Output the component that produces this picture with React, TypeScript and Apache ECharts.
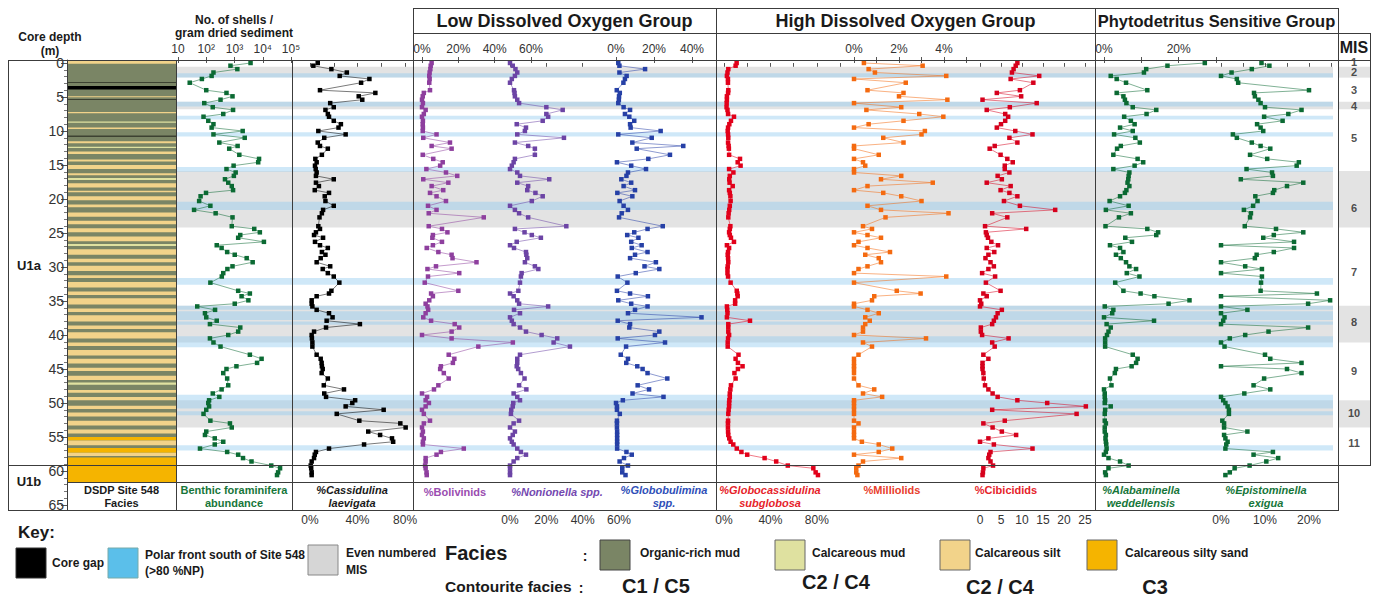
import React, { useEffect, useRef } from "react";
import * as echarts from "echarts";

// ---------------- DATA ----------------
const DEPTHS = [
  0.0, 0.4, 0.9, 1.4, 1.9, 2.35, 2.9, 4.0, 4.4, 4.9,
  5.4, 5.9, 6.5, 6.9, 7.5, 7.9, 8.5, 9.0, 9.5, 10.0,
  10.5, 11.0, 11.7, 12.2, 12.6, 13.5, 14.1, 14.6, 15.1, 15.6,
  16.1, 16.6, 17.1, 17.6, 18.1, 18.7, 19.1, 19.6, 20.3, 21.0,
  21.6, 22.1, 22.7, 24.0, 24.4, 24.9, 25.3, 25.7, 26.3, 26.8,
  27.2, 27.8, 28.2, 28.7, 29.3, 29.9, 30.3, 30.9, 31.4, 32.3,
  33.5, 33.9, 34.3, 34.9, 35.4, 35.8, 36.3, 36.8, 37.4, 37.9,
  38.4, 38.9, 39.5, 40.0, 40.5, 41.1, 41.7, 42.9, 43.5, 44.1,
  44.6, 45.0, 45.6, 46.4, 47.4, 48.0, 48.6, 49.1, 49.6, 50.0,
  50.5, 51.0, 51.6, 52.6, 53.0, 53.6, 54.2, 54.7, 55.2, 55.7,
  56.1, 56.7, 57.2, 57.6, 58.1, 58.6, 59.2, 59.6, 60.2, 60.6,
];

const ABUNDANCE = [
  3700, 720, 1260, 180, 155, 70, 26, 100, 520, 850,
  320, 85, 170, 890, 400, 80, 118, 180, 155, 1950,
  180, 2300, 290, 1290, 650, 1480, 7400, 6900, 930, 520,
  1100, 950, 460, 600, 800, 890, 98, 63, 56, 140,
  37, 215, 850, 800, 5000, 7900, 1600, 1350, 11000, 235,
  350, 550, 1020, 2700, 4400, 850, 560, 400, 355, 140,
  1350, 3500, 1780, 3100, 1020, 48, 205, 90, 100, 235,
  135, 1600, 1350, 600, 135, 180, 320, 3500, 9100, 6300,
  1170, 520, 400, 550, 600, 350, 170, 290, 126, 118,
  126, 100, 80, 140, 690, 800, 100, 90, 200, 400,
  200, 60, 550, 1350, 2000, 4000, 20000, 41000, 35000, 32000,
];

const CASSIDULINA = [
  6.5, 2.8, 18, 31, 25, 50, 43, 8.4, 55, 41,
  44, 17, 20, 13, 15, 16, 20, 26, 24, 7,
  30, 12, 6.5, 8.4, 15, 10, 4.5, 5.6, 4.2, 4.8,
  5.6, 5, 20, 5, 7.5, 4, 16, 12.4, 13, 20,
  11, 10, 8, 7, 8.4, 5, 3.4, 11, 4.2, 8.4,
  15, 10, 13, 9, 5.6, 17, 10.7, 15, 20, 24.7,
  18, 16, 5.6, 1.4, 1.4, 2, 5.6, 16, 19, 14,
  42, 13.5, 3.4, 1.4, 1.6, 2, 2, 5.6, 9, 9.8,
  10, 10.7, 9.8, 15, 11.6, 28.6, 12, 13.5, 38, 35.6,
  30, 62, 22.5, 41.5, 76, 80.5, 49, 59, 69, 70,
  45.5, 16, 5, 4, 3.4, 1.4, 0.6, 1, 1.4, 1.4,
];

const BOLIVINIDS = [
  5.3, 4.8, 4.6, 4.2, 4, 4.2, 4, 4.4, 1, 0.4,
  0, 0.5, 0, 2, 1, 0, 0.5, 0.4, 0.5, 0.4,
  8, 0.7, 15.4, 5.3, 16.3, 0.4, 6.2, 11.4, 10, 2.4,
  13.2, 19.4, 0.7, 14.5, 5.3, 11.7, 4.4, 8, 13.2, 3.3,
  8, 3.7, 34, 3.7, 11, 14, 6, 5.7, 11, 6,
  2.6, 9, 16.3, 16.8, 30, 7.7, 3, 20.5, 3.3, 1.5,
  20, 5, 6, 4, 2, 3, 3.4, 2, 0.7, 5,
  18, 20.5, 16.3, 0, 16.3, 50, 31, 14.7, 17.8, 17,
  10.4, 10, 12, 14.7, 9, 6.6, 0, 2.8, 2, 3.8,
  2, 0, 1, 4.4, 1, 0, 0.5, 0, 1, 0.5,
  0.5, 23, 10.4, 8, 2, 2, 1.7, 2, 2.5, 2.6,
];

const NONIONELLA = [
  0, 1.5, 3, 4, 2.7, 1, 0, 2.2, 2.5, 2.7,
  4, 5, 20, 29, 20, 21, 18, 3.7, 8.8, 8.2,
  4, 29.7, 2.7, 10, 13.7, 13.7, 2.7, 2, 1, 0,
  4, 5.5, 21.6, 4, 10, 9.5, 14, 18, 12, 0,
  2.7, 5, 10, 31, 2.7, 8, 12, 17, 3.7, 0,
  2.2, 8.8, 9, 9.5, 8.2, 13.7, 15.6, 6.4, 6, 5.5,
  4.6, 0, 2, 4, 5, 21, 2.2, 5.5, 0, 1,
  2, 5.5, 8.8, 17.4, 26, 24, 33, 5.5, 4, 4,
  3.7, 4.5, 6, 8, 5, 9, 2, 4, 5.5, 1.8,
  1.5, 0.7, 0.5, 5, 2, 0, 2.7, 1.5, 0, 1,
  2, 4, 6, 8.8, 4, 2, 0, 0, 0, 0,
];

const GLOBOBULIMINA = [
  1.2, 1.8, 15.3, 1.8, 5.6, 4.7, 3.9, 0.4, 2, 1.6,
  1.5, 1.2, 4, 7.4, 4.7, 7, 9.6, 7.4, 7.7, 23.5,
  1.2, 18.8, 8.6, 35.4, 10.9, 28.4, 17, 0.5, 8, 15.8,
  6.3, 5.5, 2.8, 8, 4, 10, 0.7, 8.6, 1.9, 4,
  6.3, 3, 1.6, 24.6, 16.6, 9.6, 5.9, 11.8, 8, 13.5,
  8.3, 16.6, 10, 7.4, 21, 15, 22.8, 10.4, 0.9, 6,
  0.5, 7.4, 16.8, 1.2, 8, 16.6, 10, 6.3, 45, 0.9,
  7.4, 7, 22.8, 20.5, 0.9, 25.8, 5.3, 2.5, 6.3, 5.4,
  11.2, 14, 16.6, 27, 11.4, 17.4, 8.7, 25, 3.6, 0,
  0.5, 0.5, 2, 0.5, 0.5, 0.5, 0.6, 0.6, 0.6, 0.6,
  0.6, 0.6, 5.5, 8.3, 4.2, 1.9, 6.3, 3.3, 3.3, 5,
];

const GLOBOCASSIDULINA = [
  10.9, 10, 3.7, 3, 2.5, 3.4, 3.4, 3.7, 3.5, 2.5,
  2.5, 2.3, 2.2, 3, 3.5, 8.6, 6, 4.6, 3.5, 3.2,
  3.5, 3.7, 3.5, 4, 4.2, 4.4, 13.8, 11.8, 14.3, 4.4,
  8.1, 5, 4.5, 4.8, 7.5, 4.4, 5, 5.5, 5.7, 5,
  4.5, 4, 3.7, 5.5, 5, 4.4, 5, 6, 8.6, 2.5,
  4.4, 3.5, 3.2, 3.5, 3.7, 3.2, 3, 3, 3.5, 5.7,
  11, 11.5, 11.8, 9.6, 9.6, 2.5, 2.8, 3, 2.5, 22.4,
  3.7, 3.7, 3.7, 4.4, 3.5, 3.2, 3.2, 12.5, 10, 12,
  16, 12, 9, 10, 6, 5.5, 5, 5, 4.6, 4.4,
  4.4, 4, 3.7, 3.5, 3.4, 3.4, 3.5, 3.7, 4.5, 5.7,
  8, 11, 15, 20, 35, 45, 55, 77, 79, 81,
];

const MILLIOLIDS = [
  0.44, 3.05, 0.65, 0.93, 4.1, 0, 2.3, 0.6, 2.2, 2,
  4.15, 0, 2.1, 0.55, 2.9, 3.97, 2.2, 0.65, 0, 3.15,
  3, 1.3, 2.2, 0, 0, 1.1, 0, 0.4, 0.5, 0,
  0, 2.1, 1.2, 3.5, 0.6, 0, 1.3, 2.1, 3, 0.6,
  1.2, 4.2, 1.4, 0.4, 0.8, 0, 0.6, 1.2, 0.2, 0,
  0.6, 1.6, 0.5, 1.1, 1.2, 0.6, 0.2, 0, 4.1, 0,
  1.9, 2.96, 0.9, 0.8, 0, 0, 0.6, 1.1, 0.5, 0.7,
  0.5, 0.4, 0.4, 0, 3.2, 0.4, 0.8, 0.2, 0, 0,
  0, 0, 0, 0, 0.2, 0.9, 0.4, 1.25, 0, 0,
  0, 0, 0, 0, 0.2, 0, 0, 0, 0, 0.35,
  1.1, 1.7, 1.1, 0, 2.1, 0.4, 0.2, 0.1, 0.1, 0.15,
];

const CIBICIDIDS = [
  8.9, 8.5, 8, 7.6, 14.1, 7.3, 12.7, 9.5, 4, 9.8,
  0.6, 13.5, 7.1, 1.6, 6, 6.7, 6, 5, 4, 8.4,
  12.5, 7, 8.9, 3.5, 2.3, 4.9, 6.5, 7.8, 5.9, 5.9,
  7, 4.2, 5.2, 1.6, 7.3, 4.9, 7, 8.9, 5.7, 9.5,
  17.9, 2.9, 6.5, 1.2, 11, 1.4, 1.6, 1.9, 2.7, 4.3,
  1.6, 3.4, 2, 1.3, 2.5, 3.3, 2, 0.5, 3.6, 1.4,
  4.9, 0.8, 1.6, 0, 0.3, 0, 5.2, 4.2, 3.8, 3.3,
  2.9, 0.2, 0.2, 0.5, 6.8, 2.9, 3.5, 0.8, 2, 0.6,
  0.6, 0.6, 0.8, 0.9, 1.2, 2, 3, 4.2, 8.9, 16,
  25.2, 2.9, 23, 5.9, 0.8, 3, 5.2, 8.6, 2, 0,
  3.3, 12.5, 2.5, 2.2, 2, 2.5, 3.1, 0.8, 0.7, 0.6,
];

const ALABAMINELLA = [
  27, 17, 11.3, 10.7, 1.8, 3.4, 5.9, 11.6, 3.4, 5.2,
  5.6, 6, 7.7, 14, 11.4, 5.4, 7.2, 8.2, 4.3, 7.7,
  2.7, 8.4, 9.6, 4.5, 3.5, 2.5, 9, 10.5, 8.2, 2.5,
  6.8, 6.6, 6.5, 6.3, 6.8, 6, 5.6, 4.3, 1.5, 6.6,
  0.5, 7.2, 4, 0.4, 11.6, 14.5, 14, 5.7, 7.5, 1.6,
  4.3, 5.2, 3.2, 4.5, 5.9, 6.8, 8.6, 6.1, 9.5, 3,
  5.2, 9.8, 13.5, 22.9, 17.3, 0.2, 2.5, 2.2, 0, 13.4,
  0.7, 1.8, 1.2, 0.8, 0.3, 0.3, 0.3, 7.7, 9, 8.6,
  7.4, 3.2, 2.9, 1.6, 2, 0, 0.2, 0.2, 0.3, 0.2,
  1.8, 0.3, 0.2, 0.2, 0.5, 0.2, 0.2, 0.5, 0.4, 0.5,
  0.6, 0.7, 0.5, 0, 1.2, 4.3, 6.6, 1.2, 0.3, 0.5,
];

const EPISTOMINELLA = [
  9.2, 11, 7, 2.4, 0, 3.6, 3.9, 20, 7.5, 7.7,
  8.5, 9, 10, 18.3, 15.3, 9.8, 14, 8.2, 9, 9.6,
  2.7, 3.6, 7, 9, 11.2, 6.6, 10.5, 17.7, 17.2, 5.8,
  11.6, 11.8, 4.5, 18.7, 15, 12.1, 11.8, 7.8, 8.3, 7.3,
  5.2, 6.8, 6.6, 5.4, 12.5, 18.7, 12, 9.6, 16.6, 0,
  16.6, 12, 8.1, 7.7, 0, 5.5, 9.3, 0, 9.3, 9.1,
  9, 21.8, 0, 24.8, 19.8, 0, 6, 0, 0.8, 0.5,
  0, 19.8, 10.8, 5.5, 2, 0, 0.8, 10, 11.2, 18.3,
  0, 15, 18.3, 9.8, 7.4, 11.2, 5.3, 0, 0.5, 1,
  1.5, 1.8, 1.8, 0.3, 0.7, 0.7, 6, 0.7, 1, 1.5,
  1.2, 1, 11.8, 7.4, 13, 10.3, 6.5, 3.1, 2, 1,
];

// Even-numbered MIS intervals (m)
const EVEN_MIS: [number, number][] = [
  [0.55, 2.15], [5.7, 6.8], [15.9, 24.2], [35.7, 41.1], [49.6, 53.6],
];
// Polar front south of Site 548 (m)
const POLAR_FRONT: [number, number][] = [
  [1.5, 2.15], [5.7, 6.4], [7.75, 8.3], [10.2, 10.8], [15.3, 16.0],
  [20.4, 21.6], [31.6, 32.6], [35.7, 36.3], [36.5, 37.8], [38.0, 38.5],
  [40.2, 41.8], [48.8, 50.8], [51.2, 51.8], [56.2, 57.0],
];
const MIS_LABELS: [string, number][] = [
  ["1", -0.1], ["2", 1.35], ["3", 3.9], ["4", 6.3], ["5", 11.0], ["6", 21.3],
  ["7", 30.8], ["8", 38.1], ["9", 45.3], ["10", 51.4], ["11", 55.9],
];
// Facies intervals [top, bottom, code]: O organic-rich mud, M calc. mud, S calc. silt, SS calc. silty sand, G core gap
const FACIES: [number, number, string][] = [
  [-0.44, 61.6, "O"],
  [-0.44, 0.1, "S"], [2.85, 2.95, "G"], [3.4, 3.9, "G"], [4.9, 5.05, "S"], [5.35, 5.45, "G"],
  [7.2, 7.4, "S"], [8.6, 8.8, "M"], [9.5, 9.7, "S"], [10.7, 10.8, "G"], [11.5, 11.8, "S"],
  [12.3, 12.5, "M"], [13.0, 13.4, "S"], [14.2, 14.5, "S"], [15.0, 15.6, "S"], [16.2, 16.5, "S"],
  [16.9, 17.2, "M"], [17.7, 18.3, "S"], [18.8, 19.0, "S"], [19.6, 20.2, "S"], [20.8, 21.2, "S"],
  [22.0, 22.6, "S"], [23.2, 23.7, "S"], [24.3, 24.9, "S"], [25.5, 26.2, "S"], [26.6, 26.9, "M"],
  [27.4, 28.2, "S"], [28.8, 29.3, "S"], [29.8, 30.6, "S"], [31.2, 31.6, "S"], [32.2, 33.0, "S"],
  [33.6, 34.1, "S"], [34.6, 35.5, "S"], [36.1, 36.6, "S"], [37.1, 38.0, "S"], [38.6, 39.1, "S"],
  [39.6, 40.5, "S"], [41.1, 41.6, "S"], [42.2, 43.0, "S"], [43.5, 44.2, "S"], [44.8, 45.3, "S"],
  [46.0, 46.6, "S"], [47.0, 47.3, "M"], [48.1, 48.5, "S"], [49.1, 49.6, "S"], [50.4, 50.9, "S"],
  [51.4, 52.0, "S"], [52.6, 53.3, "S"], [53.9, 54.5, "S"], [55.0, 55.5, "SS"], [55.5, 56.2, "S"],
  [56.6, 57.3, "SS"], [57.3, 57.8, "S"], [58.0, 61.6, "SS"],
];
const DEPTH_LABELS = [0, 5, 10, 15, 20, 25, 30, 35, 40, 45, 50, 55, 60, 65];

// ---------------- STYLE / LAYOUT ----------------
const FONT = "'Liberation Sans', Arial, Helvetica, sans-serif";
const PX_PER_M = 6.8;
const Y0 = 63;
const GRID_TOP = 60;
const GRID_BOTTOM = 510;
const Y_MIN = (GRID_TOP - Y0) / PX_PER_M;
const Y_MAX = (GRID_BOTTOM - Y0) / PX_PER_M;

const FACIES_COLORS: Record<string, string> = {
  O: "#7a8565", M: "#dfe1a0", S: "#f2d38a", SS: "#f5b400", G: "#000000",
};
const GREEN = "#0b6a33";
const SUP: Record<number, string> = { 1: "10", 2: "10²", 3: "10³", 4: "10⁴", 5: "10⁵" };

type Panel = {
  values: number[]; color: string; left: number; right: number; min: number; max: number;
  log?: boolean; pos: "top" | "bottom"; ticks?: number[]; labels?: number[]; fmt: (v: number) => string;
};
const pct = (v: number) => `${Math.round(v)}%`;
const PANELS: Panel[] = [
  { values: ABUNDANCE, color: GREEN, left: 178, right: 291, min: 10, max: 100000, log: true, pos: "top",
    fmt: (v) => SUP[Math.round(Math.log10(v))] || "" },
  { values: CASSIDULINA, color: "#000000", left: 310, right: 411, min: 0, max: 85, pos: "bottom",
    ticks: [0, 20, 40, 60, 80], labels: [0, 40, 80], fmt: pct },
  { values: BOLIVINIDS, color: "#8e3f9e", left: 422, right: 531, min: 0, max: 60, pos: "top",
    ticks: [0, 20, 40, 60], labels: [0, 20, 40, 60], fmt: pct },
  { values: NONIONELLA, color: "#6c44a5", left: 510, right: 619, min: 0, max: 60, pos: "bottom",
    ticks: [0, 20, 40, 60], labels: [0, 20, 40, 60], fmt: pct },
  { values: GLOBOBULIMINA, color: "#2640a6", left: 616, right: 711, min: 0, max: 50, pos: "top",
    ticks: [0, 20, 40], labels: [0, 20, 40], fmt: pct },
  { values: GLOBOCASSIDULINA, color: "#e2001a", left: 724, right: 840, min: 0, max: 100, pos: "bottom",
    ticks: [0, 20, 40, 60, 80, 100], labels: [0, 40, 80], fmt: pct },
  { values: MILLIOLIDS, color: "#f46a10", left: 854, right: 966.5, min: 0, max: 5, pos: "top",
    ticks: [0, 1, 2, 3, 4, 5], labels: [0, 2, 4], fmt: pct },
  { values: CIBICIDIDS, color: "#d6001c", left: 980, right: 1085, min: 0, max: 25, pos: "bottom",
    ticks: [0, 5, 10, 15, 20, 25], labels: [0, 5, 10, 15, 20, 25], fmt: (v) => String(Math.round(v)) },
  { values: ALABAMINELLA, color: GREEN, left: 1104, right: 1216, min: 0, max: 30, pos: "top",
    ticks: [0, 10, 20, 30], labels: [0, 20], fmt: pct },
  { values: EPISTOMINELLA, color: GREEN, left: 1221, right: 1331, min: 0, max: 25, pos: "bottom",
    ticks: [0, 5, 10, 15, 20, 25], labels: [0, 10, 20], fmt: pct },
];

function buildOption() {
  const grids: any[] = [];
  const xAxes: any[] = [];
  const yAxes: any[] = [];
  const series: any[] = [];
  const addGrid = (g: any, xAx: any): [number, number] => {
    const gi = grids.length;
    grids.push(g);
    xAxes.push({ ...xAx, gridIndex: gi });
    yAxes.push({ type: "value", gridIndex: gi, inverse: true, min: Y_MIN, max: Y_MAX, show: false });
    return [xAxes.length - 1, yAxes.length - 1];
  };
  const gridBox = (l: number, r: number) => ({ left: l, top: GRID_TOP, width: r - l, height: GRID_BOTTOM - GRID_TOP });
  const hiddenX = { type: "value", min: 0, max: 1, show: false };

  PANELS.forEach((p) => {
    const ax: any = {
      type: p.log ? "log" : "value", position: p.pos, min: p.min, max: p.max,
      axisLine: { show: false }, splitLine: { show: false },
      axisTick: { show: true, length: p.pos === "top" ? 6 : 4, lineStyle: { color: "#555", width: 1 } },
      axisLabel: { show: true, fontFamily: FONT, fontSize: 12, color: "#333", margin: p.pos === "top" ? 5 : 4,
        formatter: (v: number) => p.fmt(v), hideOverlap: false, showMinLabel: true, showMaxLabel: true },
    };
    if (p.log) ax.logBase = 10;
    if (p.ticks) ax.axisTick.customValues = p.ticks;
    if (p.labels) ax.axisLabel.customValues = p.labels;
    const [xi, yi] = addGrid(gridBox(p.left, p.right), ax);
    series.push({
      type: "line", xAxisIndex: xi, yAxisIndex: yi,
      data: DEPTHS.map((d, j) => [p.values[j], d]),
      symbol: "rect", symbolSize: 4.5, clip: false, z: 5,
      itemStyle: { color: p.color },
      lineStyle: { color: p.color, width: 0.7, opacity: 0.75 },
      emphasis: { disabled: true },
    });
  });

  // Bands
  const [bx, by] = addGrid(gridBox(177, 1333), hiddenX);
  series.push({
    type: "line", xAxisIndex: bx, yAxisIndex: by, data: [], z: 1, silent: true,
    markArea: { silent: true, label: { show: false }, itemStyle: { color: "#e3e3e3" },
      data: EVEN_MIS.map(([a, b]) => [{ yAxis: a }, { yAxis: b }]) },
  });
  series.push({
    type: "line", xAxisIndex: bx, yAxisIndex: by, data: [], z: 2, silent: true,
    markArea: { silent: true, label: { show: false }, itemStyle: { color: "rgba(140,200,238,0.42)" },
      data: POLAR_FRONT.map(([a, b]) => [{ yAxis: a }, { yAxis: b }]) },
  });

  // Facies
  const [fx, fy] = addGrid(gridBox(67, 176), hiddenX);
  series.push({
    type: "line", xAxisIndex: fx, yAxisIndex: fy, data: [], z: 1, silent: true,
    markArea: { silent: true, label: { show: false },
      data: FACIES.map(([a, b, c]) => [{ yAxis: a, itemStyle: { color: FACIES_COLORS[c] } }, { yAxis: b }]) },
  });

  // MIS
  const [mx, my] = addGrid(gridBox(1338, 1370), hiddenX);
  series.push({
    type: "scatter", xAxisIndex: mx, yAxisIndex: my, z: 6, silent: true,
    symbolSize: 1, itemStyle: { color: "transparent" },
    data: MIS_LABELS.map(([lab, d]) => ({ name: lab, value: [0.5, d] })),
    label: { show: true, position: "inside", formatter: "{b}", fontFamily: FONT, fontWeight: "bold", fontSize: 11, color: "#222" },
    markArea: { silent: true, label: { show: false }, itemStyle: { color: "#e3e3e3" },
      data: EVEN_MIS.map(([a, b]) => [{ yAxis: a }, { yAxis: b }]) },
  });

  // depth axis on facies grid
  const faciesGrid = xAxes[fx].gridIndex;
  yAxes.push({
    type: "value", gridIndex: faciesGrid, inverse: true, min: Y_MIN, max: Y_MAX, position: "left",
    axisLine: { show: true, lineStyle: { color: "#444" } }, splitLine: { show: false },
    axisTick: { show: true, length: 6, customValues: DEPTH_LABELS, lineStyle: { color: "#555" } },
    axisLabel: { show: true, customValues: DEPTH_LABELS, fontFamily: FONT, fontSize: 14, color: "#333", margin: 3 },
  });
  const minor: number[] = [];
  for (let k = 0; k <= 65; k++) if (k % 5 !== 0) minor.push(k);
  yAxes.push({
    type: "value", gridIndex: faciesGrid, inverse: true, min: Y_MIN, max: Y_MAX, position: "left",
    axisLine: { show: false }, splitLine: { show: false },
    axisTick: { show: true, length: 3, customValues: minor, lineStyle: { color: "#777" } },
    axisLabel: { show: false },
  });

  // ---------- graphic ----------
  const els: any[] = [];
  const line = (x1: number, y1: number, x2: number, y2: number, c = "#3c3c3c", w = 1) =>
    els.push({ type: "line", silent: true, z: 100, shape: { x1, y1, x2, y2 }, style: { stroke: c, lineWidth: w } });
  const txt = (s: string, x: number, y: number, o: any = {}) =>
    els.push({ type: "text", silent: true, z: 101, x, y, style: {
      text: s, fill: o.color || "#1a1a1a", fontFamily: FONT, fontSize: o.size || 12,
      fontWeight: o.weight || "bold", fontStyle: o.style || "normal",
      textAlign: o.align || "center", textVerticalAlign: "middle" } });
  const box = (x: number, y: number, w: number, h: number, fill: string, stroke = "#555") =>
    els.push({ type: "rect", silent: true, z: 101, shape: { x, y, width: w, height: h }, style: { fill, stroke, lineWidth: 1 } });

  line(413, 8.5, 1338, 8.5);
  line(413, 33.5, 1370, 33.5);
  line(8, 60.5, 1370, 60.5);
  line(8, 465.5, 1370, 465.5);
  line(67, 482.5, 1338, 482.5);
  line(8, 510.5, 1338, 510.5);
  line(8.5, 60, 8.5, 511);
  line(67.5, 60, 67.5, 511);
  line(176.5, 60, 176.5, 511);
  line(292.5, 60, 292.5, 511);
  line(413.5, 8, 413.5, 511);
  line(716.5, 8, 716.5, 511);
  line(1095.5, 8, 1095.5, 511);
  line(1338.5, 8, 1338.5, 511);
  line(1370.5, 33, 1370.5, 466);

  txt("Core depth", 50, 37, { size: 12 });
  txt("(m)", 50, 51, { size: 12 });
  txt("No. of shells /", 234, 20, { size: 12 });
  txt("gram dried sediment", 234, 33, { size: 12 });
  txt("Low Dissolved Oxygen Group", 564.5, 21, { size: 18 });
  txt("High Dissolved Oxygen Group", 905.5, 21, { size: 18 });
  txt("Phytodetritus Sensitive Group", 1216.5, 21, { size: 16.5 });
  txt("MIS", 1354, 47, { size: 16 });
  txt("U1a", 29, 265, { size: 13 });
  txt("U1b", 29, 481, { size: 13 });

  const LS = 11;
  txt("DSDP Site 548", 121.5, 490, { size: LS });
  txt("Facies", 121.5, 503, { size: LS });
  txt("Benthic foraminifera", 234, 490, { size: LS, color: "#17763a" });
  txt("abundance", 234, 503, { size: LS, color: "#17763a" });
  txt("%Cassidulina", 352, 490, { size: LS, style: "italic" });
  txt("laevigata", 352, 503, { size: LS, style: "italic" });
  txt("%Bolivinids", 455, 492, { size: LS, color: "#9a4db0" });
  txt("%Nonionella spp.", 557, 492, { size: LS, color: "#7448b0", style: "italic" });
  txt("%Globobulimina", 664, 490, { size: LS, color: "#2f4fb8", style: "italic" });
  txt("spp.", 664, 503, { size: LS, color: "#2f4fb8", style: "italic" });
  txt("%Globocassidulina", 770, 490, { size: LS, color: "#e61e2a", style: "italic" });
  txt("subglobosa", 770, 503, { size: LS, color: "#e61e2a", style: "italic" });
  txt("%Milliolids", 892, 490, { size: LS, color: "#e8402c" });
  txt("%Cibicidids", 1006, 490, { size: LS, color: "#e61e2a" });
  txt("%Alabaminella", 1141, 490, { size: LS, color: "#17763a", style: "italic" });
  txt("weddellensis", 1141, 503, { size: LS, color: "#17763a", style: "italic" });
  txt("%Epistominella", 1266, 490, { size: LS, color: "#17763a", style: "italic" });
  txt("exigua", 1266, 503, { size: LS, color: "#17763a", style: "italic" });

  txt("Key:", 18, 532, { size: 17, align: "left" });
  box(16, 548, 30, 30, "#000000", "#333");
  txt("Core gap", 52, 563, { size: 12, align: "left" });
  box(108, 548, 30, 30, "#5bbfea", "#7aa");
  txt("Polar front south of Site 548", 145, 555, { size: 12, align: "left" });
  txt("(>80 %NP)", 145, 571, { size: 12, align: "left" });
  box(308, 545, 30, 30, "#d6d6d6", "#888");
  txt("Even numbered", 346, 553, { size: 12, align: "left" });
  txt("MIS", 346, 570, { size: 12, align: "left" });
  txt("Facies", 445, 553, { size: 20, align: "left" });
  txt(":", 585, 556, { size: 14 });
  box(600, 540, 30, 30, FACIES_COLORS.O, "#444");
  txt("Organic-rich mud", 640, 553, { size: 12, align: "left" });
  box(775, 540, 30, 30, FACIES_COLORS.M, "#666");
  txt("Calcareous mud", 812, 553, { size: 12, align: "left" });
  box(940, 540, 30, 30, FACIES_COLORS.S, "#666");
  txt("Calcareous silt", 975, 553, { size: 12, align: "left" });
  box(1087, 540, 30, 30, FACIES_COLORS.SS, "#666");
  txt("Calcareous silty sand", 1125, 553, { size: 12, align: "left" });
  txt("Contourite facies", 445, 586, { size: 15.5, align: "left" });
  txt(":", 581, 588, { size: 14 });
  txt("C1 / C5", 656, 586, { size: 20 });
  txt("C2 / C4", 836, 582, { size: 20 });
  txt("C2 / C4", 1000, 587, { size: 20 });
  txt("C3", 1155, 587, { size: 20 });

  return {
    animation: false,
    backgroundColor: "#ffffff",
    textStyle: { fontFamily: FONT },
    grid: grids,
    xAxis: xAxes,
    yAxis: yAxes,
    series,
    graphic: { elements: els },
  };
}

export default function App() {
  const ref = useRef<HTMLDivElement>(null);
  useEffect(() => {
    if (!ref.current) return;
    const chart = echarts.init(ref.current, undefined, { renderer: "svg" });
    chart.setOption(buildOption() as any);
    return () => chart.dispose();
  }, []);
  return (
    <div
      ref={ref}
      style={{ position: "absolute", left: 0, top: 0, width: 1384, height: 598, background: "#fff" }}
    />
  );
}
